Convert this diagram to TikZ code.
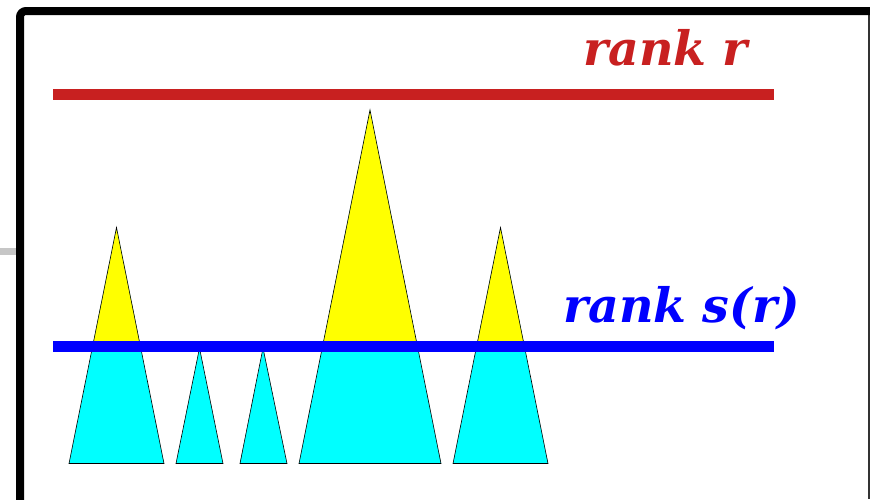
\documentclass[tikz,border=0pt]{standalone}
\usepackage{fontspec}
\setmainfont{DejaVu Serif}
\definecolor{rankred}{RGB}{200,32,32}
\definecolor{rankblue}{RGB}{0,0,255}
\definecolor{lowcyan}{RGB}{0,255,255}
\definecolor{topyellow}{RGB}{255,255,0}
\tikzset{
  ranklabel/.style={anchor=base west, inner sep=0pt, font=\fontsize{47.5}{47.5}\selectfont\bfseries\itshape},
  rankline/.style={line width=11pt},
  treeoutline/.style={draw=black, line width=0.6pt, line join=miter},
}
\newcommand{\treeshape}[4]{%
  \fill[lowcyan] (#1,#2) -- (#4,463.5) -- (#3,463.5) -- cycle;
  \begin{scope}
    \clip (0,0) rectangle (870,346);
    \fill[topyellow] (#1,#2) -- (#4,463.5) -- (#3,463.5) -- cycle;
  \end{scope}
  \draw[treeoutline] (#1,#2) -- (#4,463.5) -- (#3,463.5) -- cycle;
}
\begin{document}
\begin{tikzpicture}[x=1pt,y=-1pt]
\useasboundingbox (0,0) rectangle (870,499);
\fill[white] (0,0) rectangle (870,499);
% frame
\draw[line width=7pt, color=gray!45] (0,251.5) -- (16,251.5);
\draw[line width=1.2pt, color=black!80] (869,11) -- (869,499);
\draw[line width=8pt, color=black, rounded corners=6pt] (20,505) -- (20,11) -- (875,11);
% trees
\treeshape{116.5}{227.5}{69}{164}
\treeshape{199.5}{348}{176}{223}
\treeshape{263}{348}{240}{287}
\treeshape{370}{110}{299}{441}
\treeshape{500.5}{227.5}{453}{548}
% rank lines
\coordinate (rl) at (53,94.5);
\coordinate (rr) at (774,94.5);
\coordinate (sl) at (53,346);
\coordinate (sr) at (774,346);
\draw[rankline, color=rankred] (rl) -- (rr);
\draw[rankline, color=rankblue] (sl) -- (sr);
\node[ranklabel, text=rankred] (rlabel) at (583,65) {rank r};
\node[ranklabel, text=rankblue] (slabel) at (563,322) {rank s(r)};
\end{tikzpicture}
\end{document}
